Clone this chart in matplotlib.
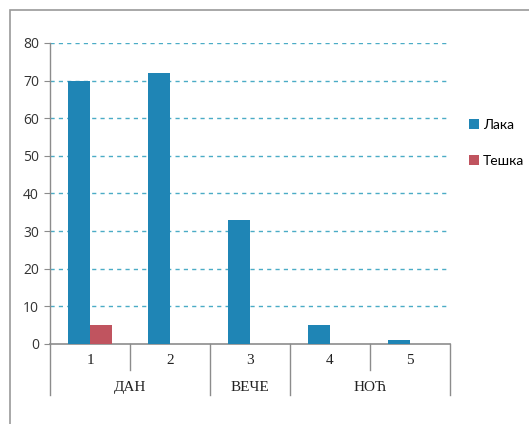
import matplotlib
matplotlib.use("Agg")
import matplotlib.pyplot as plt
from matplotlib.patches import Rectangle

# Data.
categories = ["1", "2", "3", "4", "5"]
groups = ["ДАН", "ВЕЧЕ", "НОЋ"]
group_spans = [(0, 1), (2, 2), (3, 4)]
laka = [70, 72, 33, 5, 1]
teshka = [5, 0, 0, 0, 0]
y_ticks = [0, 10, 20, 30, 40, 50, 60, 70, 80]

blue = "#1f85b5"
red = "#c0545f"
grid_color = "#4bacc6"
axis_gray = "#8c8c8c"

fig = plt.figure(figsize=(5.29, 4.24), dpi=100)
ax = fig.add_axes([0.0945, 0.1887, 0.7562, 0.7099])

# Outer chart frame.
fig.patches.append(Rectangle((0.019, -0.01), 1.0, 0.987, transform=fig.transFigure,
                             fill=False, edgecolor="#9a9a9a", linewidth=1.2))

x = list(range(len(categories)))
w = 0.28
b1 = ax.bar([i - w / 2 for i in x], laka, width=w, color=blue, label="Лака", zorder=3)
b2 = ax.bar([i + w / 2 for i in x], teshka, width=w, color=red, label="Тешка", zorder=3)

ax.set_xlim(-0.5, len(categories) - 0.5)
ax.set_ylim(0, 80)
ax.set_yticks(y_ticks)
ax.set_yticklabels([str(v) for v in y_ticks], fontfamily="Open Sans", fontsize=10, color="#333333")
ax.tick_params(axis="y", length=4, color=axis_gray, pad=4)
ax.set_xticks([])

for v in y_ticks[1:]:
    ax.axhline(v, color=grid_color, linestyle=(0, (3, 3)), linewidth=1.0, zorder=1)

for s in ["top", "right"]:
    ax.spines[s].set_visible(False)
ax.spines["left"].set_color(axis_gray)
ax.spines["bottom"].set_color(axis_gray)
ax.spines["left"].set_linewidth(1.0)
ax.spines["bottom"].set_linewidth(1.2)

trans = ax.get_xaxis_transform()

# Category labels and the short separators between them.
for i, c in enumerate(categories):
    ax.text(i, -0.056, c, transform=trans, ha="center", va="center",
            fontfamily="Liberation Serif", fontsize=11, color="#222222")

group_edges = [-0.5] + [end + 0.5 for _, end in group_spans]
for i in range(len(categories) + 1):
    edge = i - 0.5
    bottom = -0.169 if edge in group_edges else -0.086
    ax.plot([edge, edge], [0, bottom], transform=trans, color=axis_gray,
            linewidth=1.0, clip_on=False)

# Group labels.
for g, (start, end) in zip(groups, group_spans):
    ax.text((start + end) / 2, -0.143, g, transform=trans, ha="center", va="center",
            fontfamily="Liberation Serif", fontsize=11, color="#222222")

leg = fig.legend(handles=[b1, b2], loc="upper left", bbox_to_anchor=(0.887, 0.72),
                 frameon=False, borderpad=0, borderaxespad=0,
                 handlelength=0.7, handleheight=0.7, handletextpad=0.3,
                 labelspacing=1.75, prop={"family": "Lato", "size": 10})

fig.savefig("out.png", dpi=100)
